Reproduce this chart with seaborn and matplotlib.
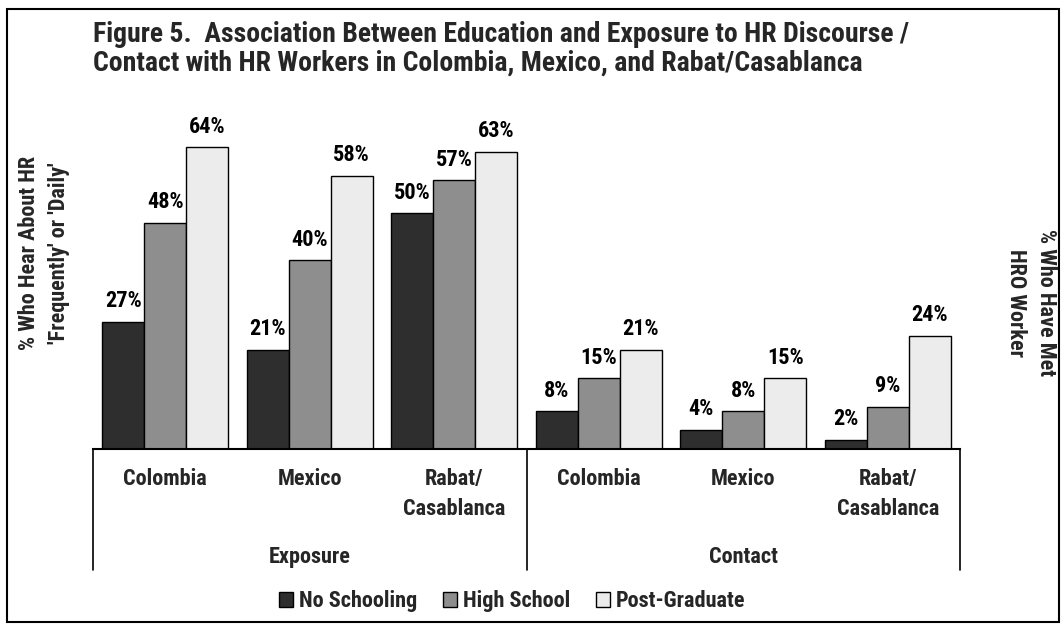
import matplotlib
matplotlib.use("Agg")
import matplotlib.pyplot as plt
import matplotlib.font_manager as fm
import matplotlib.patches as mpatches
import matplotlib.transforms as mtrans
import seaborn as sns
import pandas as pd

# ---- data ----
groups = ["Exposure", "Exposure", "Exposure", "Contact", "Contact", "Contact"]
places = ["Colombia", "Mexico", "Rabat/\nCasablanca", "Colombia", "Mexico", "Rabat/\nCasablanca"]
levels = ["No Schooling", "High School", "Post-Graduate"]
no_schooling = [27, 21, 50, 8, 4, 2]
high_school = [48, 40, 57, 15, 8, 9]
post_graduate = [64, 58, 63, 21, 15, 24]
colors = ["#2e2e2e", "#8e8e8e", "#ececec"]

title = ("Figure 5.  Association Between Education and Exposure to HR Discourse /\n"
         "Contact with HR Workers in Colombia, Mexico, and Rabat/Casablanca")
left_label = "% Who Hear About HR\n'Frequently' or 'Daily'"
right_label = "% Who Have Met\nHRO Worker"

sns.set_theme(style="white")
names = {f.name for f in fm.fontManager.ttflist}
fam = [f for f in ["Liberation Sans Narrow", "Roboto Condensed", "Liberation Sans", "DejaVu Sans"] if f in names] + ["DejaVu Sans"]
plt.rcParams["font.family"] = fam
plt.rcParams["font.weight"] = "bold"

FS = 16

keys = [f"{g}|{i}" for i, g in enumerate(groups)]
rows = []
for k, a, b, c in zip(keys, no_schooling, high_school, post_graduate):
    rows.append((k, levels[0], a))
    rows.append((k, levels[1], b))
    rows.append((k, levels[2], c))
df = pd.DataFrame(rows, columns=["key", "level", "value"])

W, H = 1064, 632
fig = plt.figure(figsize=(W / 100, H / 100), dpi=100)
ax_left, ax_right = 93, 960
ax_bottom, ax_top = 449, 119
ax = fig.add_axes([ax_left / W, 1 - ax_bottom / H, (ax_right - ax_left) / W, (ax_bottom - ax_top) / H])

sns.barplot(data=df, x="key", y="value", hue="level", order=keys, hue_order=levels,
            palette=colors, width=0.87, edgecolor="black", linewidth=1.0,
            saturation=1, legend=False, ax=ax, errorbar=None)
ax.set_xlim(-0.5, 5.5)
ax.set_ylim(0, 70)
for c in ax.containers:
    ax.bar_label(c, labels=[f"{int(v)}%" for v in c.datavalues], padding=7,
                 fontsize=FS, fontweight="bold", color="black")

for s in ["top", "left", "right"]:
    ax.spines[s].set_visible(False)
ax.spines["bottom"].set_color("black")
ax.spines["bottom"].set_linewidth(1.5)
ax.set_xticks([])
ax.set_yticks([])
ax.set_xlabel("")
ax.set_ylabel("")

trans = mtrans.blended_transform_factory(ax.transData, ax.transAxes)
px = 1.0 / (ax_bottom - ax_top)
for xv in [-0.5, 2.5, 5.5]:
    ax.plot([xv, xv], [0, -(570 - ax_bottom) * px], color="black", lw=1.2,
            transform=trans, clip_on=False)
for i, p in enumerate(places):
    ax.text(i, -(468 - ax_bottom) * px, p, transform=trans, ha="center", va="top",
            fontsize=FS, fontweight="bold", linespacing=1.45)
ax.text(1, -(546 - ax_bottom) * px, "Exposure", transform=trans, ha="center", va="top",
        fontsize=FS, fontweight="bold")
ax.text(4, -(546 - ax_bottom) * px, "Contact", transform=trans, ha="center", va="top",
        fontsize=FS, fontweight="bold")

fig.text(93 / W, 1 - 21 / H, title, ha="left", va="top", fontsize=20, fontweight="bold",
         linespacing=1.1)
fig.text(44 / W, 1 - 253 / H, left_label, rotation=90, ha="center", va="center",
         fontsize=FS, fontweight="bold", multialignment="center", linespacing=1.45)
fig.text(1031 / W, 1 - 303 / H, right_label, rotation=270, ha="center", va="center",
         fontsize=FS, fontweight="bold", multialignment="center", linespacing=1.45)

handles = [mpatches.Patch(facecolor=c, edgecolor="black", linewidth=1.0, label=l)
           for c, l in zip(colors, levels)]
fig.legend(handles=handles, loc="center", bbox_to_anchor=(512 / W, 1 - 601 / H), ncol=3,
           frameon=False, handlelength=0.65, handleheight=0.65,
           handletextpad=0.25, columnspacing=1.15, prop={"weight": "bold", "size": FS})

fig.patches.append(mpatches.Rectangle((7 / W, 1 - 622 / H), (1059 - 7) / W, (622 - 9) / H,
                                      transform=fig.transFigure, fill=False,
                                      edgecolor="black", linewidth=1.5))
fig.savefig("out.png", dpi=100)
